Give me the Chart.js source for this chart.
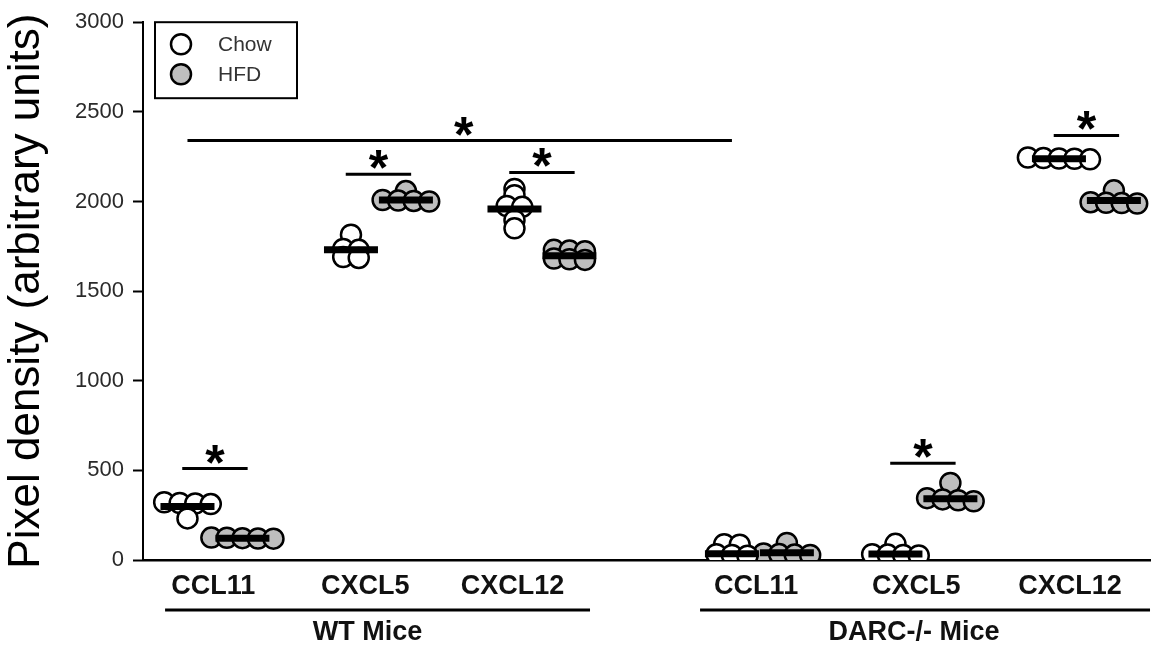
<!DOCTYPE html>
<html>
<head>
<meta charset="utf-8">
<script src="https://cdn.jsdelivr.net/npm/chart.js@4"></script>
<style>
  html, body { margin: 0; padding: 0; background: #fff; }
  canvas { display: block; }
</style>
</head>
<body>
<canvas id="chart" width="1151" height="651"></canvas>
<script>
// ===== data =====
const chemokines = ['CCL11', 'CXCL5', 'CXCL12', 'CCL11', 'CXCL5', 'CXCL12'];
const mouseGroups = ['WT Mice', 'DARC-/- Mice'];
const yTicks = [0, 500, 1000, 1500, 2000, 2500, 3000];

// one list of animals per panel
const chowValues = [
  [322, 318, 315, 312, 232],
  [1815, 1735, 1730, 1690, 1685],
  [2070, 2035, 1975, 1970, 1895, 1850],
  [88, 85, 32, 28, 24],
  [90, 32, 30, 28, 25],
  [2245, 2242, 2240, 2238, 2235]
];
const hfdValues = [
  [125, 124, 122, 120, 119],
  [2058, 2008, 2005, 2003, 2000],
  [1730, 1726, 1722, 1682, 1678, 1674],
  [95, 36, 33, 30, 28],
  [430, 345, 338, 333, 328],
  [2062, 1996, 1993, 1991, 1989]
];
// thick bar through each cloud
const chowBars = [298, 1730, 1958, 35, 33, 2238];
const hfdBars = [122, 2008, 1697, 40, 342, 2006];

// significance: panel index + height of the line
const sigPanels = [0, 1, 2, 4, 5];
const sigLevels = [510, 2152, 2162, 540, 2368];
const bigSigLevel = 2340; // WT vs DARC CCL11

// ===== layout (slot units on the hidden x scale) =====
const panelPos = [0, 1, 2, 3.33, 4.33, 5.33];
const labelPos = [-0.01, 0.92, 1.82, 3.31, 4.29, 5.23];
const groupSpan = [[-0.305, 2.294], [2.967, 5.719]];
const dietShift = 0.168;
const swarmStep = 0.095;
const rowTol = 30;
const FONT = "'Liberation Sans', Arial, sans-serif";

// values close together sit side by side in one row
function swarm(values, center) {
  const sorted = [...values].sort((a, b) => b - a);
  const rows = [];
  sorted.forEach(v => {
    const row = rows[rows.length - 1];
    if (row && row[0] - v < rowTol) row.push(v);
    else rows.push([v]);
  });
  const pts = [];
  rows.forEach(row => row.forEach((v, i) => {
    pts.push({ x: center + (i - (row.length - 1) / 2) * swarmStep, y: v });
  }));
  return pts;
}

const chowPts = chowValues.flatMap((vals, i) => swarm(vals, panelPos[i] - dietShift));
const hfdPts = hfdValues.flatMap((vals, i) => swarm(vals, panelPos[i] + dietShift));
const barPts = [
  ...chowBars.map((v, i) => ({ x: panelPos[i] - dietShift, y: v })),
  ...hfdBars.map((v, i) => ({ x: panelPos[i] + dietShift, y: v }))
];

// ===== extra drawing: sig lines, stars, labels, legend =====
const decorations = {
  id: 'decorations',
  afterDraw(chart) {
    const { ctx, chartArea, scales: { x, y } } = chart;
    ctx.save();
    ctx.strokeStyle = '#000';
    ctx.fillStyle = '#000';

    const hline = (x0, x1, yy, w) => {
      ctx.lineWidth = w;
      ctx.beginPath(); ctx.moveTo(x0, yy); ctx.lineTo(x1, yy); ctx.stroke();
    };
    const star = (cx, lineY) => {
      ctx.font = 'bold 50px ' + FONT;
      ctx.textAlign = 'center';
      ctx.textBaseline = 'alphabetic';
      const m = ctx.measureText('*');
      ctx.fillText('*', cx, lineY - 5 - m.actualBoundingBoxDescent);
    };

    sigPanels.forEach((p, i) => {
      const ly = y.getPixelForValue(sigLevels[i]);
      hline(x.getPixelForValue(panelPos[p] - 0.2), x.getPixelForValue(panelPos[p] + 0.2), ly, 3);
      star(x.getPixelForValue(panelPos[p]), ly);
    });

    const by = y.getPixelForValue(bigSigLevel);
    const bx0 = x.getPixelForValue(panelPos[0] - dietShift);
    const bx1 = x.getPixelForValue(panelPos[3] - dietShift);
    hline(bx0, bx1, by, 3);
    star((bx0 + bx1) / 2 + 4, by);

    // category + group labels under the axis
    ctx.fillStyle = '#111';
    ctx.font = 'bold 27px ' + FONT;
    ctx.textAlign = 'center';
    ctx.textBaseline = 'middle';
    chemokines.forEach((c, i) => ctx.fillText(c, x.getPixelForValue(labelPos[i]), chartArea.bottom + 27));
    mouseGroups.forEach((g, i) => {
      const g0 = x.getPixelForValue(groupSpan[i][0]);
      const g1 = x.getPixelForValue(groupSpan[i][1]);
      hline(g0, g1, chartArea.bottom + 50, 3);
      const cx = i === 0 ? (g0 + g1) / 2 - 10 : (g0 + g1) / 2 - 11;
      ctx.fillText(g, cx, chartArea.bottom + 73);
    });

    // legend box
    const lx = chartArea.left + 12, ly = chartArea.top;
    ctx.lineWidth = 2;
    ctx.strokeRect(lx, ly, 142, 76);
    ctx.font = '21px ' + FONT;
    ctx.textAlign = 'left';
    [chart.data.datasets[1], chart.data.datasets[2]].forEach((ds, i) => {
      const cy = ly + 22 + i * 30;
      ctx.beginPath();
      ctx.arc(lx + 26, cy, 10, 0, Math.PI * 2);
      ctx.fillStyle = ds.backgroundColor;
      ctx.fill();
      ctx.lineWidth = 2.5;
      ctx.stroke();
      ctx.fillStyle = '#333';
      ctx.fillText(ds.label, lx + 63, cy + 1);
    });
    ctx.restore();
  }
};

new Chart(document.getElementById('chart'), {
  type: 'scatter',
  data: {
    datasets: [
      {
        label: 'bar',
        data: barPts,
        pointStyle: 'line',
        pointRadius: 27,
        borderWidth: 7,
        borderColor: '#000',
        backgroundColor: '#000'
      },
      {
        label: 'Chow',
        data: chowPts,
        pointRadius: 10,
        borderWidth: 2.5,
        borderColor: '#000',
        backgroundColor: '#ffffff'
      },
      {
        label: 'HFD',
        data: hfdPts,
        pointRadius: 10,
        borderWidth: 2.5,
        borderColor: '#000',
        backgroundColor: '#bebebe'
      }
    ]
  },
  options: {
    responsive: false,
    animation: false,
    devicePixelRatio: 1,
    layout: { autoPadding: false, padding: { top: 22, right: 0, left: 0, bottom: 0 } },
    plugins: { legend: { display: false }, tooltip: { enabled: false } },
    scales: {
      x: {
        type: 'linear',
        min: -0.44,
        max: 5.725,
        ticks: { display: false },
        grid: { display: false },
        border: { display: true, color: '#000', width: 2.5 },
        afterFit: s => { s.height = 91; }
      },
      y: {
        min: 0,
        max: 3000,
        afterBuildTicks: s => { s.ticks = yTicks.map(v => ({ value: v })); },
        ticks: { font: { family: FONT, size: 22 }, color: '#2a2a2a', padding: 9, callback: v => String(v) },
        grid: { drawOnChartArea: false, tickLength: 10, tickColor: '#000', tickWidth: 2 },
        border: { color: '#000', width: 2 },
        title: {
          display: true,
          text: 'Pixel density (arbitrary units)',
          font: { family: FONT, size: 44 },
          color: '#000',
          padding: 0
        },
        afterFit: s => { s.width = 143; }
      }
    }
  },
  plugins: [decorations]
});
</script>
</body>
</html>
